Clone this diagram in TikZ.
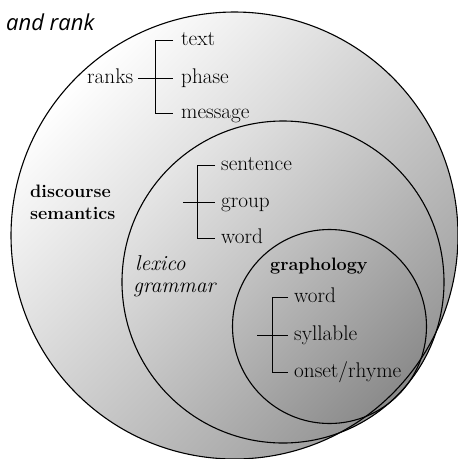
\documentclass[tikz,border=0pt]{standalone}
\usepackage{fontspec}
\newfontfamily\andfont{Open Sans}
\begin{document}
\begin{tikzpicture}[x=1pt,y=-1pt,
  lbl/.style={anchor=base west,inner sep=0pt,text height=12pt,text depth=2pt,font=\fontsize{21.2}{24}\selectfont},
  boldlbl/.style={anchor=base west,inner sep=0pt,font=\bfseries\fontsize{18}{22}\selectfont},
  itlbl/.style={anchor=base west,inner sep=0pt,font=\itshape\fontsize{21.5}{24}\selectfont},
  ring/.style={line width=1.1pt},
  brk/.style={line width=0.9pt}]
\useasboundingbox (0,0) rectangle (458,459);
% circles
\shade[top color=white,bottom color=black!38,shading angle=45] (234.5,235.5) circle[radius=223.5];
\shade[top color=black!10,bottom color=black!42,shading angle=45] (283,282) circle[radius=161];
\shade[top color=black!24,bottom color=black!46,shading angle=45] (329.5,326.5) circle[radius=97];
\draw[ring] (234.5,235.5) circle[radius=223.5];
\draw[ring] (283,282) circle[radius=161];
\draw[ring] (329.5,326.5) circle[radius=97];
% title
\node[anchor=base west,inner sep=0pt,font=\andfont\itshape\fontsize{22}{24}\selectfont] (title) at (6,30) {and rank};
% ranks bracket
\node[lbl] (ranks) at (87,83) {ranks};
\node[lbl] (text) at (181,45) {text};
\node[lbl] (phase) at (181,83) {phase};
\node[lbl] (message) at (181,118) {message};
\coordinate (sp1) at (155,0);
\draw[brk] ([xshift=-8pt]text.west) -| (sp1 |- message.west) -- ([xshift=-8pt]message.west);
\draw[brk] ([xshift=5pt]ranks.east) -- ([xshift=-8pt]phase.west);
% discourse semantics
\node[boldlbl] (disc) at (30,197) {discourse};
\node[boldlbl] (sem) at (30,219) {semantics};
% lexicogrammar bracket
\node[lbl] (sentence) at (221,170) {sentence};
\node[lbl] (group) at (221,207) {group};
\node[lbl] (word) at (221,243) {word};
\coordinate (sp2) at (197,0);
\coordinate (g2) at (183,0);
\draw[brk] ([xshift=-6pt]sentence.west) -| (sp2 |- word.west) -- ([xshift=-6pt]word.west);
\draw[brk] (g2 |- group.west) -- ([xshift=-6pt]group.west);
\node[itlbl] (lexico) at (135,270) {lexico};
\node[itlbl] (grammar) at (133,292) {grammar};
% graphology bracket
\node[boldlbl] (graph) at (270,270) {graphology};
\node[lbl] (gword) at (294,302) {word};
\node[lbl] (syll) at (294,340) {syllable};
\node[lbl] (onset) at (294,377) {onset/rhyme};
\coordinate (sp3) at (272,0);
\coordinate (g3) at (257,0);
\draw[brk] ([xshift=-6pt]gword.west) -| (sp3 |- onset.west) -- ([xshift=-6pt]onset.west);
\draw[brk] (g3 |- syll.west) -- ([xshift=-6pt]syll.west);
\end{tikzpicture}
\end{document}
